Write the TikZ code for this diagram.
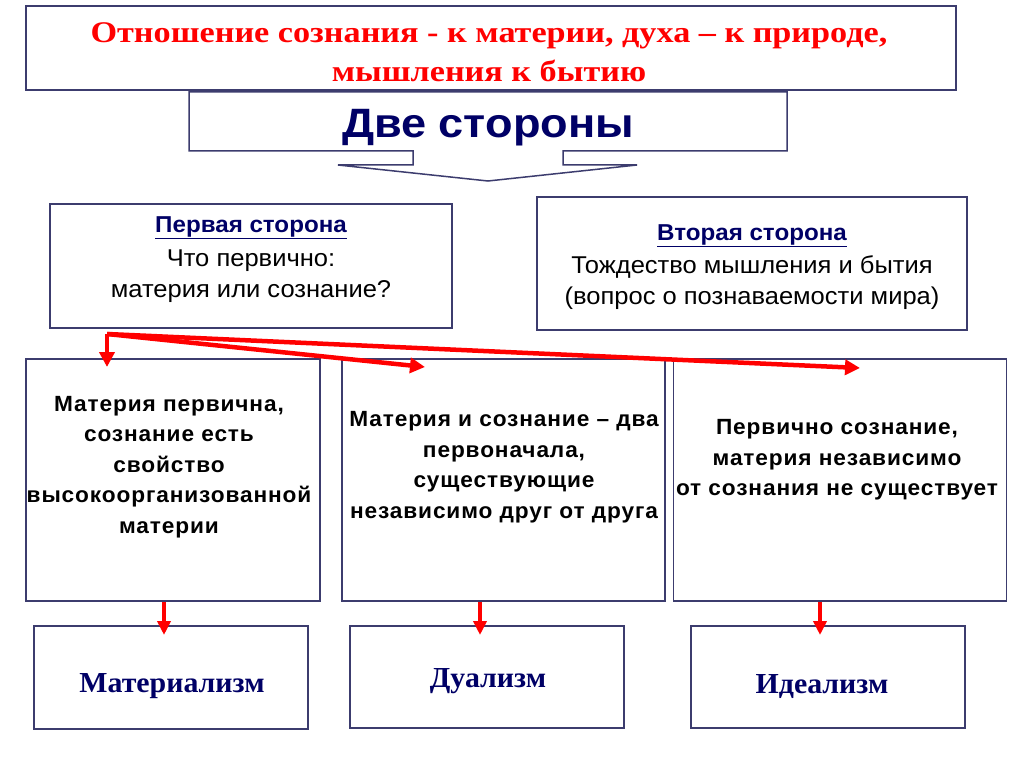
\documentclass[tikz,border=0pt]{standalone}
\usepackage{fontspec}
\setmainfont{Liberation Serif}
\setsansfont{Liberation Sans}
\newfontfamily\titlefont[FakeStretch=1.14]{Liberation Serif}
\newfontfamily\headfont[FakeStretch=1.1]{Liberation Sans}
\newfontfamily\sidefont[FakeStretch=1.05]{Liberation Sans}
\newfontfamily\spsans[LetterSpace=4,FakeStretch=1.03]{Liberation Sans}
\newfontfamily\ismfont[FakeStretch=1.03]{Liberation Serif}
\usetikzlibrary{arrows.meta}
\definecolor{navy}{RGB}{0,0,102}
\definecolor{edge}{RGB}{60,60,110}
\tikzset{
  box/.style={draw=edge, line width=1.5pt, fill=white, inner sep=0pt},
  redarrow/.style={draw=red, line width=4.5pt, -{Triangle[length=15pt,width=15pt]}},
  downarrow/.style={draw=red, line width=3.5pt, -{Triangle[length=14pt,width=13pt]}},
  titletext/.style={font=\titlefont\bfseries\fontsize{30}{39}\selectfont, text=red, align=center, inner sep=0pt},
  sidehead/.style={font=\sidefont\bfseries\fontsize{23}{31}\selectfont, text=navy, inner sep=0pt},
  sidetext/.style={font=\sidefont\fontsize{24.3}{31}\selectfont, text=black, align=center, inner sep=0pt},
  midtext/.style={font=\spsans\bfseries\fontsize{22}{30.5}\selectfont, text=black, align=center, inner sep=0pt},
  ismtext/.style={font=\ismfont\bfseries\fontsize{29}{30}\selectfont, text=navy, inner sep=0pt},
}
\begin{document}
\begin{tikzpicture}[x=1pt,y=-1pt]
\useasboundingbox[fill=white] (0,0) rectangle (1024,767);
% top box
\node[box, minimum width=930, minimum height=84] (top) at (491,48) {};
\node[titletext] (toptext) at (489,52) {Отношение сознания - к материи, духа – к природе,\\мышления к бытию};
% callout
\draw[box] (189,92) -- (787,92) -- (787,151) -- (563,151) -- (563,165) -- (637,165)
  -- (488,181) -- (338,165) -- (413,165) -- (413,151) -- (189,151) -- cycle;
\node[font=\headfont\bfseries\fontsize{41}{44}\selectfont, text=navy, inner sep=0pt] (two) at (488,128) {Две стороны};
% sides
\node[box, minimum width=402, minimum height=124] (s1) at (251,266) {};
\node[sidehead] (s1h) at (251,228) {\underline{Первая сторона}};
\node[sidetext] (s1t) at (251,276) {Что первично:\\материя или сознание?};
\node[box, minimum width=430, minimum height=133] (s2) at (752,263.5) {};
\node[sidehead] (s2h) at (752,236) {\underline{Вторая сторона}};
\node[sidetext] (s2t) at (752,283) {Тождество мышления и бытия\\(вопрос о познаваемости мира)};
% middle boxes
\node[box, minimum width=294, minimum height=242] (m1) at (173,480) {};
\node[box, minimum width=323, minimum height=242] (m2) at (503.5,480) {};
\node[box, minimum width=333, minimum height=242] (m3) at (840,480) {};
\node[midtext] (m1t) at (169,467) {Материя первична,\\сознание есть\\свойство\\высокоорганизованной\\материи};
\node[midtext] (m2t) at (504,467) {Материя и сознание – два\\первоначала,\\существующие\\независимо друг от друга};
\node[midtext] (m3t) at (837,460) {Первично сознание,\\материя независимо\\от сознания не существует};
% bottom boxes
\node[box, minimum width=274, minimum height=103] (b1) at (171,677.5) {};
\node[box, minimum width=274, minimum height=102] (b2) at (487,677) {};
\node[box, minimum width=274, minimum height=102] (b3) at (828,677) {};
\node[ismtext] (b1t) at (172,686) {Материализм};
\node[ismtext] (b2t) at (488,681) {Дуализм};
\node[ismtext] (b3t) at (822,687) {Идеализм};
% arrows
\coordinate (src) at (107,334);
\coordinate (t1) at (107,367);
\coordinate (t2) at (425,367);
\coordinate (t3) at (860,368);
\draw[redarrow] (src) -- (t1);
\draw[redarrow] (src) -- (t2);
\draw[redarrow] (src) -- (t3);
\coordinate (d1) at (164,635);
\coordinate (d2) at (480,635);
\coordinate (d3) at (820,635);
\draw[downarrow] (m1.south -| d1) -- (d1);
\draw[downarrow] (m2.south -| d2) -- (d2);
\draw[downarrow] (m3.south -| d3) -- (d3);
\end{tikzpicture}
\end{document}
